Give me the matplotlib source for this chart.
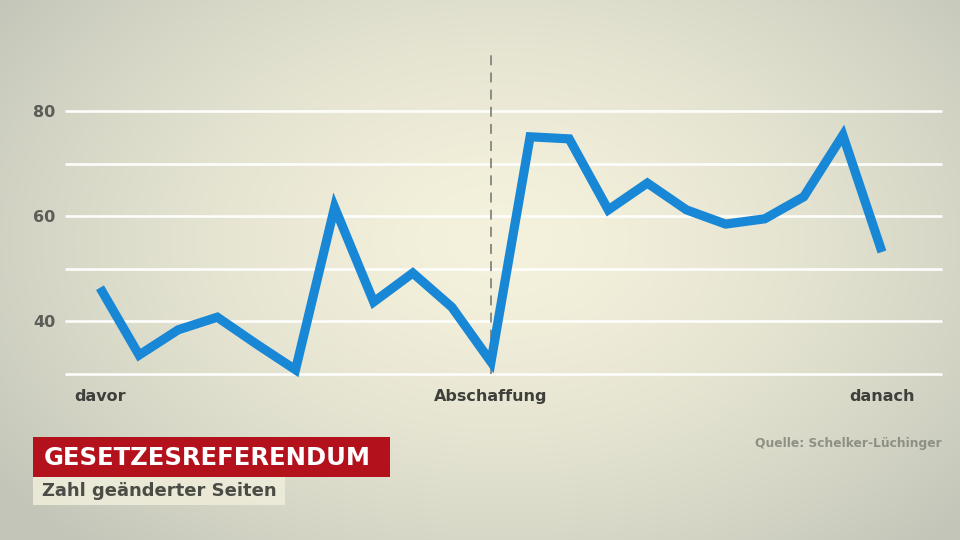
import numpy as np
import matplotlib
matplotlib.use("Agg")
import matplotlib.pyplot as plt
from matplotlib.patches import Rectangle

# ---- data ----
positions = list(range(21))
values = [46.4, 33.6, 38.4, 40.8, 35.7, 30.8, 61.7, 43.7, 49.2, 42.7, 32.3,
          75.1, 74.7, 61.2, 66.3, 61.2, 58.5, 59.5, 63.7, 75.4, 53.2]
grid_levels = [30, 40, 50, 60, 70, 80]
ytick_values = [40, 60, 80]
ytick_labels = ["40", "60", "80"]
xtick_positions = [0, 10, 20]
xtick_labels = ["davor", "Abschaffung", "danach"]
event_position = 10
title = "GESETZESREFERENDUM"
subtitle = "Zahl geänderter Seiten"
source = "Quelle: Schelker-Lüchinger"

W, H = 960, 540
fig = plt.figure(figsize=(W / 100, H / 100), dpi=100)

# background radial gradient
bg = fig.add_axes([0, 0, 1, 1], zorder=-10)
yy, xx = np.mgrid[0:H, 0:W]
cx, cy = 500, 240
d = np.sqrt(((xx - cx) / 620.0) ** 2 + ((yy - cy) / 420.0) ** 2)
d = np.clip(d, 0, 1)
c0 = np.array([0xf4, 0xf1, 0xdc]) / 255.0
c1 = np.array([0xc2, 0xc5, 0xb8]) / 255.0
t = d[..., None] ** 1.6
img = c0 * (1 - t) + c1 * t
bg.imshow(img, extent=[0, 1, 0, 1], aspect="auto", origin="upper")
bg.axis("off")

# main axes
ax = fig.add_axes([65 / W, (H - 374) / H, (942 - 65) / W, 324 / H])
ax.set_facecolor("none")
ax.set_xlim(-0.895, 21.535)
ax.set_ylim(30, 30 + 324 / 5.26)
for s in ax.spines.values():
    s.set_visible(False)

for g in grid_levels:
    ax.axhline(g, color="white", lw=1.9, alpha=0.95, zorder=1,
               solid_capstyle="butt", clip_on=False)

ax.axvline(event_position, ymin=0, ymax=1, color="#85857e", lw=1.3,
           linestyle=(0, (5.5, 4.0)), zorder=2)

ax.plot(positions, values, color="#1887d6", lw=6.6, zorder=3,
        solid_capstyle="butt", solid_joinstyle="miter", clip_on=False)

ax.set_yticks(ytick_values)
ax.set_yticklabels(ytick_labels)
ax.set_xticks(xtick_positions)
ax.set_xticklabels(xtick_labels)
ax.tick_params(axis="y", length=0, pad=7, labelsize=11.5, labelcolor="#5b5d56")
ax.tick_params(axis="x", length=0, pad=11, labelsize=11.5, labelcolor="#3f403b")
for lab in ax.get_yticklabels() + ax.get_xticklabels():
    lab.set_fontweight("bold")

# title boxes
fig.patches.append(Rectangle((33 / W, (H - 477) / H), 357 / W, 40 / H,
                             transform=fig.transFigure, facecolor="#b3121c",
                             edgecolor="none", zorder=5))
fig.text(44 / W, (H - 458) / H, title, color="white", fontsize=17.5,
         fontweight="bold", va="center", ha="left", zorder=6)
fig.patches.append(Rectangle((33 / W, (H - 505) / H), 252 / W, 28 / H,
                             transform=fig.transFigure, facecolor="#eeecd9",
                             edgecolor="none", alpha=0.9, zorder=5))
fig.text(42 / W, (H - 491) / H, subtitle, color="#4a4c45", fontsize=13,
         fontweight="bold", va="center", ha="left", zorder=6)

fig.text(942 / W, (H - 443) / H, source, color="#8e9086", fontsize=8.8,
         fontweight="bold", va="center", ha="right")

fig.savefig("out.png", dpi=100)
